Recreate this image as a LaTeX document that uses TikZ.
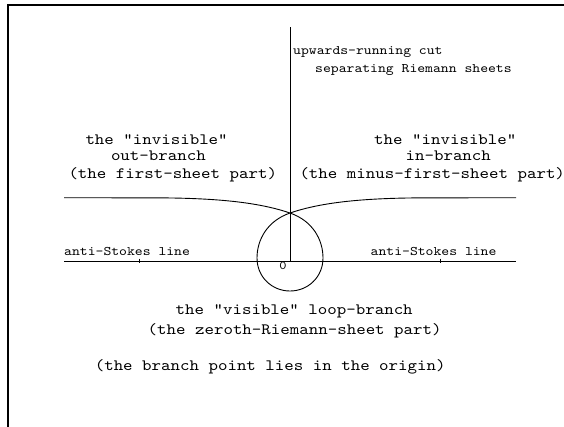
\documentclass[tikz,border=0pt]{standalone}
\usepackage{fontspec}
\setmonofont{lmmono10-regular}[Extension=.otf,FakeStretch=1.143]
\begin{document}
\begin{tikzpicture}[x=1pt,y=-1pt,
  small/.style={font=\ttfamily\fontsize{13.1}{14}\selectfont,anchor=west,inner sep=0pt,text height=0.68em,text depth=0.2em},
  big/.style={font=\ttfamily\fontsize{15.8}{17}\selectfont,anchor=west,inner sep=0pt,text height=0.68em,text depth=0.2em},
  curve/.style={line width=0.9pt},
  frame/.style={line width=1.4pt}]
\useasboundingbox (0,0) rectangle (564,426);
% frame
\draw[frame] (8,430) -- (8,5) -- (570,5);
% axes
\coordinate (cuttop) at (290,27);
\coordinate (origin) at (290,261);
\coordinate (axl) at (64,261);
\coordinate (axr) at (516,261);
\draw[curve] (cuttop) -- (origin);
\draw[curve] (axl) -- (axr);
\draw[line width=0.6pt] (139.5,258.5) -- (139.5,263);
\draw[line width=0.6pt] (440.5,258.5) -- (440.5,263);
% branches and loop
\coordinate (bl) at (64,197.7);
\coordinate (br) at (516,197.7);
\coordinate (x) at (290,213);
\draw[curve] (bl) -- (165,197.9)
  .. controls (225,198.5) and (262,203.5) .. (x)
  .. controls (313,221) and (323,240) .. (323,258)
  .. controls (323,277) and (308,291) .. (290,291)
  .. controls (272,291) and (257,277) .. (257,258)
  .. controls (257,240) and (267,221) .. (x)
  .. controls (318,203.5) and (355,198.5) .. (415,197.9) -- (br);
% labels
\node[small] (cut1) at (293,52) {upwards-running cut};
\node[small] (cut2) at (315,70) {separating Riemann sheets};
\node[small] (asl) at (64,253) {anti-Stokes line};
\node[small] (asr) at (370.5,253) {anti-Stokes line};
\node[font=\ttfamily\fontsize{12}{13}\selectfont,inner sep=0pt] (zero) at (283,266) {0};
\node[big] (l1) at (85.3,141.7) {the "invisible"};
\node[big] (l2) at (110.8,158.3) {out-branch};
\node[big] (l3) at (68.3,175.7) {(the first-sheet part)};
\node[big] (r1) at (374,141.7) {the "invisible"};
\node[big] (r2) at (405.4,158.3) {in-branch};
\node[big] (r3) at (299.3,175.7) {(the minus-first-sheet part)};
\node[big] (b1) at (175.5,311.7) {the "visible" loop-branch};
\node[big] (b2) at (147.5,332.3) {(the zeroth-Riemann-sheet part)};
\node[big] (b3) at (94.6,368.3) {(the branch point lies in the origin)};
\end{tikzpicture}
\end{document}
